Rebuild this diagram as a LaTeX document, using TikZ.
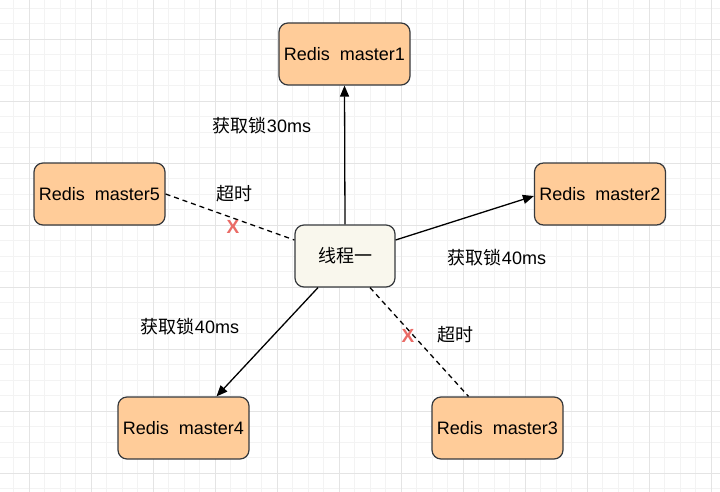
\documentclass[tikz,border=0pt]{standalone}
\usepackage{fontspec}
\setmainfont{Liberation Sans}
\newfontfamily\cjk{Noto Sans CJK SC}
\usetikzlibrary{arrows.meta,calc}
\definecolor{gridminor}{HTML}{F3F3F3}
\definecolor{gridmajor}{HTML}{E4E4E4}
\definecolor{orangefill}{HTML}{FFCC99}
\definecolor{boxline}{HTML}{36393D}
\definecolor{threadfill}{HTML}{F9F7ED}
\definecolor{xred}{HTML}{EA6B66}
\tikzset{
  master/.style={draw=boxline, fill=orangefill, line width=1.2pt, rounded corners=9pt,
    minimum width=131pt, minimum height=62pt, inner sep=0pt, font=\fontsize{18}{22}\selectfont},
  thread/.style={draw=boxline, fill=threadfill, line width=1.2pt, rounded corners=9pt,
    minimum width=100pt, minimum height=62pt, inner sep=0pt, font=\fontsize{18}{22}\selectfont\cjk},
  lbl/.style={font=\fontsize{18}{22}\selectfont, inner sep=0pt},
  xmark/.style={font=\fontsize{19}{22}\selectfont, text=xred, inner sep=0pt},
  conn/.style={line width=1.3pt, draw=black, -{Triangle[length=11pt,width=9pt]}},
  tout/.style={line width=1.3pt, draw=black, dash pattern=on 5pt off 4pt},
}
\begin{document}
\begin{tikzpicture}[x=1pt,y=-1pt]
\useasboundingbox (0,0) rectangle (720,492);
\fill[white] (0,0) rectangle (720,492);
% grid
\foreach \i in {0,...,47} {
  \draw[gridminor, line width=0.8pt] ({-33+15.5*\i},0) -- ({-33+15.5*\i},492);
  \draw[gridminor, line width=0.8pt] (0,{-23+15.5*\i}) -- (720,{-23+15.5*\i});
}
\foreach \i in {0,...,12} {
  \draw[gridmajor, line width=0.9pt] ({-33+62*\i},0) -- ({-33+62*\i},492);
  \draw[gridmajor, line width=0.9pt] (0,{-23+62*\i}) -- (720,{-23+62*\i});
}
% nodes
\node[master] (m1) at (344.5,54) {Redis\ \ master1};
\node[master] (m2) at (600,194) {Redis\ \ master2};
\node[master] (m5) at (99.5,194) {Redis\ \ master5};
\node[thread] (t) at (345,256) {线程一};
\node[master] (m4) at (183.5,428) {Redis\ \ master4};
\node[master] (m3) at (497.5,428) {Redis\ \ master3};
% connectors
\draw[conn] (t.north) -- (m1.south);
\draw[conn] ([yshift=16pt]t.east) -- ([yshift=-2pt]m2.west);
\draw[conn] ([xshift=-27pt]t.south) -- ([xshift=33pt]m4.north);
\draw[tout] (m5.east) -- ([yshift=16pt]t.west);
\draw[tout] ([xshift=25pt]t.south) -- ([xshift=-29pt]m3.north);
% labels
\node[lbl] (l1) at (262,126) {{\cjk 获取锁}30ms};
\node[lbl] (l2) at (497,258) {{\cjk 获取锁}40ms};
\node[lbl] (l3) at (190,327) {{\cjk 获取锁}40ms};
\node[lbl] (l4) at (234,194) {\cjk 超时};
\node[lbl] (l5) at (455,335) {\cjk 超时};
\node[xmark] (x1) at (233,227) {\textbf{X}};
\node[xmark] (x2) at (408,336) {\textbf{X}};
\end{tikzpicture}
\end{document}
